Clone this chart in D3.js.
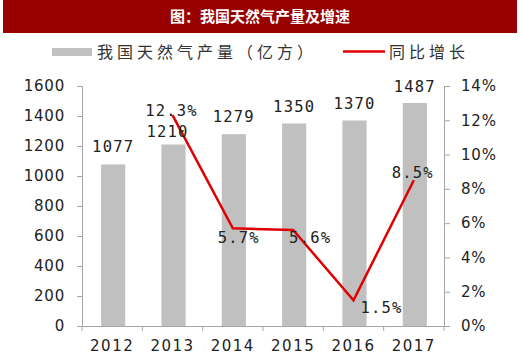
<!DOCTYPE html>
<html><head><meta charset="utf-8">
<script src="https://cdn.jsdelivr.net/npm/d3@7"></script>
<style>body{margin:0;background:#fff}svg{display:block}</style>
</head><body><svg id="c" width="520" height="358"></svg>
<script>
const years = ["2012","2013","2014","2015","2016","2017"];
const output = [1077,1210,1279,1350,1370,1487];
const growth = [null,12.3,5.7,5.6,1.5,8.5];
const growthLabels = ["","12.3%","5.7%","5.6%","1.5%","8.5%"];
const leftTicks = [0,200,400,600,800,1000,1200,1400,1600];
const rightTicks = [0,2,4,6,8,10,12,14];
const title = "图：我国天然气产量及增速";
const legendBar = "我国天然气产量（亿方）";
const legendLine = "同比增长";

const svg = d3.select("#c");
const L=82, R=444, T=86, B=326;
const x = d3.scaleBand().domain(years).range([L,R]).paddingInner(0).paddingOuter(0);
const yL = d3.scaleLinear().domain([0,1600]).range([B,T]);
const yR = d3.scaleLinear().domain([0,14]).range([B,T]);
const grey="#a6a6a6";
const numFont = "'DejaVu Sans', Verdana, sans-serif";
const monoFont = "'DejaVu Sans Mono', monospace";
const cjk = "'Noto Sans CJK SC', sans-serif";

// title bar
svg.append("rect").attr("x",3).attr("y",0).attr("width",514).attr("height",33).attr("fill","#990000");
svg.append("text").attr("x",260).attr("y",21.5).attr("text-anchor","middle")
  .attr("fill","#fff").attr("font-family",cjk).attr("font-weight","bold").attr("font-size",15)
  .text(title);

// legend
svg.append("rect").attr("x",52).attr("y",48).attr("width",40).attr("height",8).attr("fill","#c0c0c0");
svg.append("text").attr("x",97).attr("y",58).attr("font-family",cjk).attr("font-size",16)
  .attr("letter-spacing",4).attr("fill","#333").text(legendBar);
svg.append("line").attr("x1",343).attr("x2",385).attr("y1",51.5).attr("y2",51.5).attr("stroke","#e00000").attr("stroke-width",2.5);
svg.append("text").attr("x",389).attr("y",58).attr("font-family",cjk).attr("font-size",16)
  .attr("letter-spacing",4).attr("fill","#333").text(legendLine);

// bars
const bw = x.bandwidth()*0.4;
svg.selectAll("rect.bar").data(output).enter().append("rect").attr("class","bar")
  .attr("x",(d,i)=>x(years[i])+x.bandwidth()/2-bw/2+1)
  .attr("y",d=>yL(d)).attr("width",bw).attr("height",d=>B-yL(d)).attr("fill","#c0c0c0");

// axes
const axL = svg.append("g").attr("transform",`translate(${L},0)`)
  .call(d3.axisLeft(yL).tickValues(leftTicks).tickSize(5).tickPadding(12).tickFormat(d3.format("d")));
const axR = svg.append("g").attr("transform",`translate(${R},0)`)
  .call(d3.axisRight(yR).tickValues(rightTicks).tickSize(6).tickPadding(11).tickFormat(d=>d+"%"));
const axB = svg.append("g").attr("transform",`translate(0,${B})`)
  .call(d3.axisBottom(x).tickSize(0).tickPadding(14));
// category boundary ticks
svg.selectAll("line.bt").data(years.slice(1)).enter().append("line")
  .attr("x1",d=>x(d)).attr("x2",d=>x(d)).attr("y1",B).attr("y2",B+5).attr("stroke",grey);
svg.append("line").attr("x1",L).attr("x2",L).attr("y1",B).attr("y2",B+5).attr("stroke",grey);
svg.append("line").attr("x1",R).attr("x2",R).attr("y1",B).attr("y2",B+5).attr("stroke",grey);

[axL,axR,axB].forEach(a=>{
  a.select(".domain").attr("stroke",grey);
  a.selectAll(".tick line").attr("stroke",grey);
  a.selectAll("text").attr("font-family",numFont).attr("font-size",15).attr("fill","#222").attr("letter-spacing",0.8);
});
axB.selectAll("text").attr("letter-spacing",1.5);

// line
const pts = growth.map((g,i)=>g==null?null:[x(years[i])+x.bandwidth()/2,yR(g)]).filter(p=>p);
svg.append("path").attr("d",d3.line()(pts)).attr("fill","none").attr("stroke","#e00000")
  .attr("stroke-width",2.5).attr("stroke-linejoin","miter");

// bar labels
const barLabelDx=[1,-5,1,1,1,1];
const barLabelDy=[-12,-7.5,-12,-12,-12,-11];
svg.selectAll("text.bl").data(output).enter().append("text")
  .attr("x",(d,i)=>x(years[i])+x.bandwidth()/2+barLabelDx[i]).attr("y",(d,i)=>yL(d)+barLabelDy[i])
  .attr("text-anchor","middle").attr("font-family",monoFont).attr("font-size",15.5)
  .attr("letter-spacing",1.2).attr("fill","#222").text(d=>d);

// growth labels
const gdx=[0,-1,6,17,28,20], gdy=[0,1,15,13,13,-2];
const ganchor=["middle","middle","middle","middle","middle","end"];
svg.selectAll("text.gl").data(growth).enter().filter(d=>d!=null).append("text")
  .attr("x",(d,i)=>x(years[i+1])+x.bandwidth()/2+gdx[i+1])
  .attr("y",(d,i)=>yR(d)+gdy[i+1])
  .attr("text-anchor",(d,i)=>ganchor[i+1]).attr("font-family",monoFont).attr("font-size",15.5)
  .attr("letter-spacing",1.2).attr("fill","#222").text((d,i)=>growthLabels[i+1]);
</script></body></html>
